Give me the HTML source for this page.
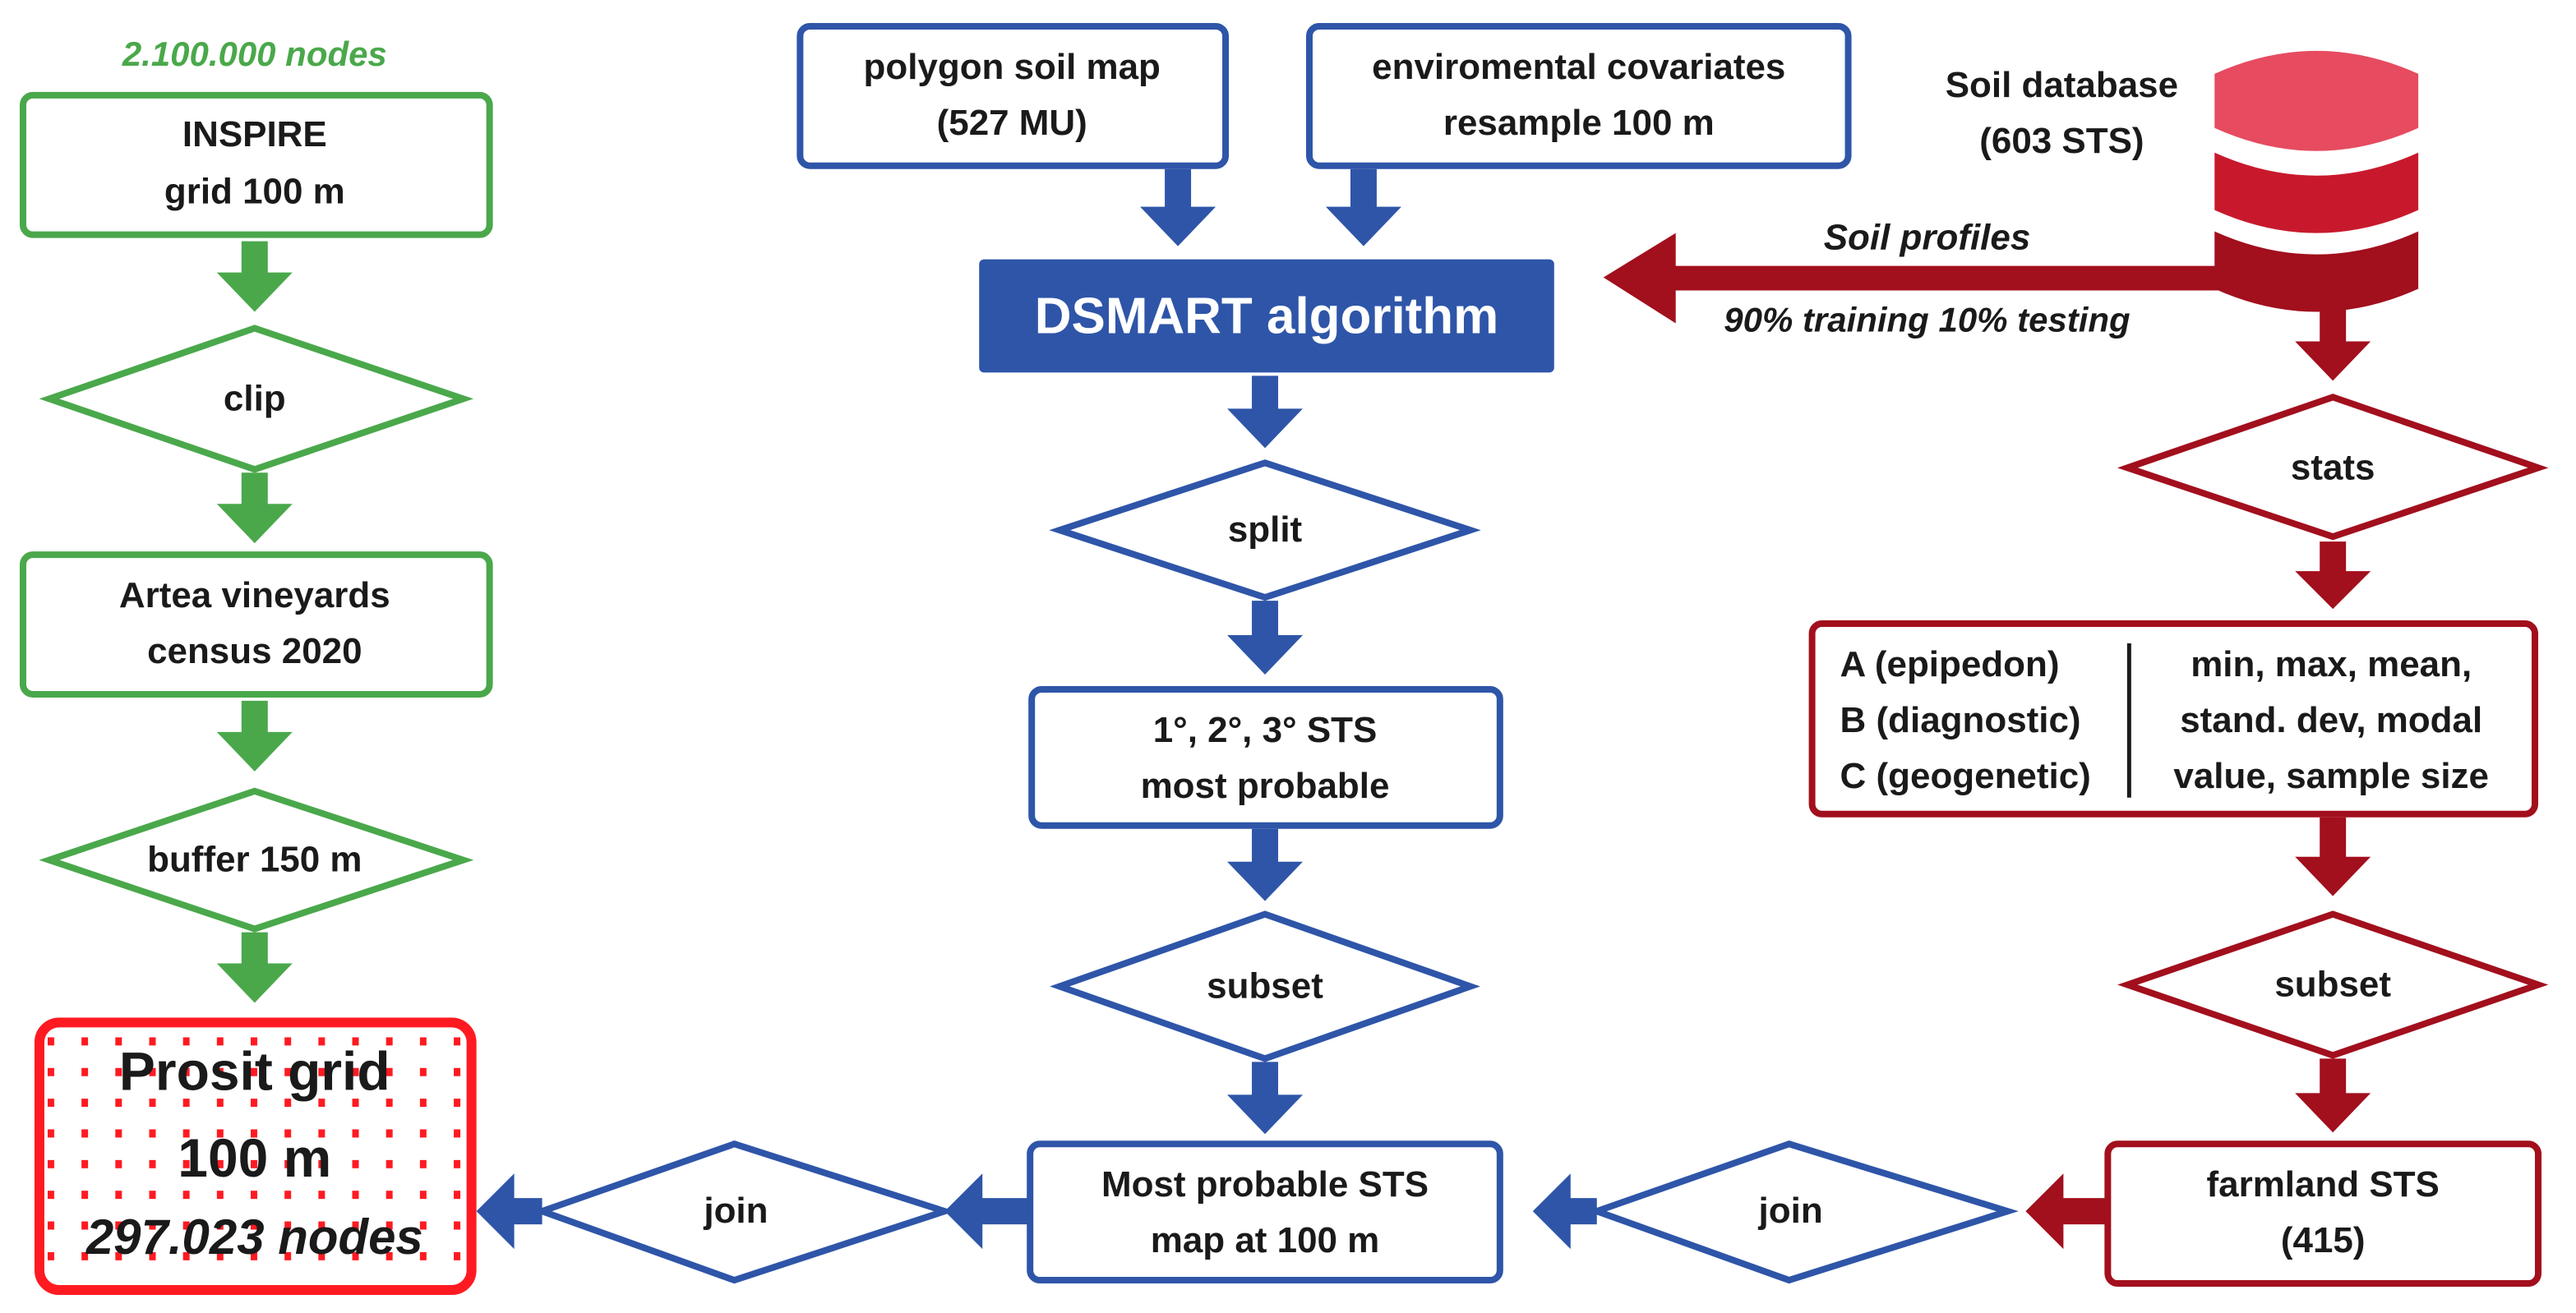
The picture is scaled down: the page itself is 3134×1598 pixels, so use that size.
<!DOCTYPE html>
<html><head><meta charset="utf-8"><style>
html,body{margin:0;padding:0;background:#fff;}
svg{display:block;}
text{font-family:"Liberation Sans",Arial,sans-serif;font-weight:bold;fill:#1a1a1a;text-anchor:middle;}
</style></head><body>
<svg width="3134" height="1598" viewBox="0 0 1568 800" preserveAspectRatio="none" xmlns="http://www.w3.org/2000/svg">
<defs>
<pattern id="dots" x="29" y="632" width="20.6" height="18.7" patternUnits="userSpaceOnUse">
<rect x="0" y="0" width="4" height="5" fill="#ff1a22"/>
</pattern>
</defs>
<!-- LEFT COLUMN (green) -->
<text x="155" y="40" font-size="21" font-style="italic" style="fill:#4aa84b">2.100.000 nodes</text>
<rect x="14" y="58" width="284" height="85" rx="6" fill="#fff" stroke="#4aa84b" stroke-width="4"/>
<text x="155" y="89" font-size="22">INSPIRE</text>
<text x="155" y="124" font-size="22">grid 100 m</text>
<polygon points="147,147 163,147 163,166 178,166 155,190 132,166 147,166" fill="#4aa84b"/>
<polygon points="30,243 155,200 282,243 155,286" fill="#fff" stroke="#4aa84b" stroke-width="4"/>
<text x="155" y="250" font-size="22">clip</text>
<polygon points="147,288 163,288 163,307 178,307 155,331 132,307 147,307" fill="#4aa84b"/>
<rect x="14" y="338" width="284" height="85" rx="6" fill="#fff" stroke="#4aa84b" stroke-width="4"/>
<text x="155" y="370" font-size="22">Artea vineyards</text>
<text x="155" y="404" font-size="22">census 2020</text>
<polygon points="147,427 163,427 163,446 178,446 155,470 132,446 147,446" fill="#4aa84b"/>
<polygon points="30,524 155,482 282,524 155,566" fill="#fff" stroke="#4aa84b" stroke-width="4"/>
<text x="155" y="531" font-size="22">buffer 150 m</text>
<polygon points="147,568 163,568 163,587 178,587 155,611 132,587 147,587" fill="#4aa84b"/>
<rect x="24" y="623" width="263" height="163" rx="12" fill="#fff" stroke="#ff1a22" stroke-width="6"/>
<rect x="29" y="632" width="252" height="144" fill="url(#dots)"/>
<text x="155" y="664" font-size="33">Prosit grid</text>
<text x="155" y="717" font-size="33">100 m</text>
<text x="155" y="764" font-size="30" font-style="italic">297.023 nodes</text>

<!-- MIDDLE COLUMN (blue) -->
<rect x="487" y="16" width="259" height="85" rx="6" fill="#fff" stroke="#2e55a8" stroke-width="4"/>
<text x="616" y="48" font-size="22">polygon soil map</text>
<text x="616" y="82" font-size="22">(527 MU)</text>
<rect x="797" y="16" width="328" height="85" rx="6" fill="#fff" stroke="#2e55a8" stroke-width="4"/>
<text x="961" y="48" font-size="22">enviromental covariates</text>
<text x="961" y="82" font-size="22">resample 100 m</text>
<polygon points="709,103 725,103 725,126 740,126 717,150 694,126 709,126" fill="#2e55a8"/>
<polygon points="822,103 838,103 838,126 853,126 830,150 807,126 822,126" fill="#2e55a8"/>
<rect x="596" y="158" width="350" height="69" rx="3" fill="#2e55a8"/>
<text x="771" y="203" font-size="31" style="fill:#fff">DSMART algorithm</text>
<polygon points="762,229 778,229 778,249 793,249 770,273 747,249 762,249" fill="#2e55a8"/>
<polygon points="645,323 770,282 895,323 770,364" fill="#fff" stroke="#2e55a8" stroke-width="4"/>
<text x="770" y="330" font-size="22">split</text>
<polygon points="762,366 778,366 778,387 793,387 770,411 747,387 762,387" fill="#2e55a8"/>
<rect x="628" y="420" width="285" height="83" rx="6" fill="#fff" stroke="#2e55a8" stroke-width="4"/>
<text x="770" y="452" font-size="22">1°, 2°, 3° STS</text>
<text x="770" y="486" font-size="22">most probable</text>
<polygon points="762,505 778,505 778,525 793,525 770,549 747,525 762,525" fill="#2e55a8"/>
<polygon points="645,601 770,557 895,601 770,645" fill="#fff" stroke="#2e55a8" stroke-width="4"/>
<text x="770" y="608" font-size="22">subset</text>
<polygon points="762,647 778,647 778,667 793,667 770,691 747,667 762,667" fill="#2e55a8"/>
<rect x="627" y="697" width="286" height="83" rx="6" fill="#fff" stroke="#2e55a8" stroke-width="4"/>
<text x="770" y="729" font-size="22">Most probable STS</text>
<text x="770" y="763" font-size="22">map at 100 m</text>
<!-- bottom joins -->
<polygon points="627,730 627,746 598,746 598,761 575,738 598,715 598,730" fill="#2e55a8"/>
<polygon points="330,738 447,697 575,738 447,780" fill="#fff" stroke="#2e55a8" stroke-width="4"/>
<text x="448" y="745" font-size="22">join</text>
<polygon points="330,730 330,746 313,746 313,761 290,738 313,715 313,730" fill="#2e55a8"/>
<polygon points="972,730 972,746 956,746 956,761 933,738 956,715 956,730" fill="#2e55a8"/>
<polygon points="972,738 1089,697 1222,738 1089,780" fill="#fff" stroke="#2e55a8" stroke-width="4"/>
<text x="1090" y="745" font-size="22">join</text>
<polygon points="1283,730 1283,746 1256,746 1256,761 1233,738 1256,715 1256,730" fill="#a20f1d"/>

<!-- RIGHT COLUMN (red) -->
<text x="1255" y="59" font-size="22">Soil database</text>
<text x="1255" y="93" font-size="22">(603 STS)</text>
<path d="M1348,45 Q1410,17 1472,45 L1472,78 Q1410,106 1348,78 Z" fill="#e64b60"/>
<path d="M1348,93 Q1410,121 1472,93 L1472,128 Q1410,156 1348,128 Z" fill="#c8192c"/>
<path d="M1348,141 Q1410,169 1472,141 L1472,176 Q1410,204 1348,176 Z" fill="#a20f1d"/>
<polygon points="1350,162 1350,177 1020,177 1020,197 976,169 1020,142 1020,162" fill="#a20f1d"/>
<text x="1173" y="152" font-size="22" font-style="italic">Soil profiles</text>
<text x="1173" y="202" font-size="21" font-style="italic">90% training 10% testing</text>
<polygon points="1412,188 1428,188 1428,208 1443,208 1420,232 1397,208 1412,208" fill="#a20f1d"/>
<polygon points="1295,285 1420,242 1545,285 1420,327" fill="#fff" stroke="#a20f1d" stroke-width="4"/>
<text x="1420" y="292" font-size="22">stats</text>
<polygon points="1412,330 1428,330 1428,348 1443,348 1420,371 1397,348 1412,348" fill="#a20f1d"/>
<rect x="1103" y="380" width="440" height="116" rx="6" fill="#fff" stroke="#a20f1d" stroke-width="4"/>
<line x1="1296" y1="392" x2="1296" y2="486" stroke="#1a1a1a" stroke-width="2.5"/>
<text x="1120" y="412" font-size="22" style="text-anchor:start">A (epipedon)</text>
<text x="1120" y="446" font-size="22" style="text-anchor:start">B (diagnostic)</text>
<text x="1120" y="480" font-size="22" style="text-anchor:start">C (geogenetic)</text>
<text x="1419" y="412" font-size="22">min, max, mean,</text>
<text x="1419" y="446" font-size="22">stand. dev,  modal</text>
<text x="1419" y="480" font-size="22">value, sample size</text>
<polygon points="1412,498 1428,498 1428,522 1443,522 1420,546 1397,522 1412,522" fill="#a20f1d"/>
<polygon points="1295,600 1420,557 1545,600 1420,643" fill="#fff" stroke="#a20f1d" stroke-width="4"/>
<text x="1420" y="607" font-size="22">subset</text>
<polygon points="1412,645 1428,645 1428,666 1443,666 1420,690 1397,666 1412,666" fill="#a20f1d"/>
<rect x="1283" y="697" width="262" height="85" rx="6" fill="#fff" stroke="#a20f1d" stroke-width="4"/>
<text x="1414" y="729" font-size="22">farmland STS</text>
<text x="1414" y="763" font-size="22">(415)</text>
</svg>
</body></html>
